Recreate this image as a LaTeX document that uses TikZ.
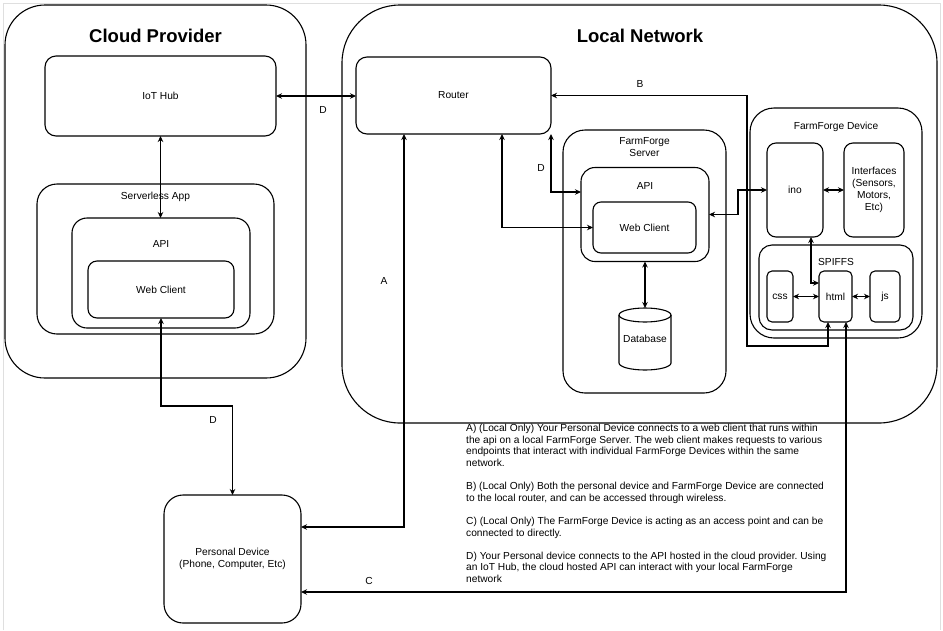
\documentclass[tikz,border=0pt]{standalone}
\usepackage{fontspec}
\setmainfont{Liberation Sans}
\usetikzlibrary{arrows.meta}
\frenchspacing
\newcommand\lblfont{\fontsize{10.2}{12}\selectfont}
\newcommand\descfont{\fontsize{10.2}{11.6}\selectfont}
\begin{document}
\begin{tikzpicture}[x=1pt,y=1pt,
  box/.style={draw, line width=1.1pt, inner sep=0pt, outer sep=0pt, rounded corners=#1, font=\lblfont, align=center},
  box/.default=10pt,
  lbl/.style={font=\lblfont, inner sep=0pt, outer sep=0pt, align=center},
  ttl/.style={font=\fontsize{18.5}{22}\selectfont\bfseries, inner sep=0pt},
  conn/.style={line width=1.1pt, {Stealth[length=6pt,width=5.5pt]}-{Stealth[length=6pt,width=5.5pt]}},
  frame/.style={draw=gray!25, line width=1pt}
]
\useasboundingbox (0,0) rectangle (943,-630);
\draw[frame] (3,-630) -- (3,-3) -- (940,-3) -- (940,-630);

% containers
\node[box=40pt, minimum width=301pt, minimum height=373pt] (cloud) at (155.5,-191.5) {};
\node[box=58pt, minimum width=595pt, minimum height=418pt] (local) at (639.5,-214) {};
\node[ttl] (tcloud) at (155.5,-36) {Cloud Provider};
\node[ttl] (tlocal) at (640,-36) {Local Network};

% cloud side
\node[box=11pt, minimum width=231pt, minimum height=80pt] (iot) at (160.5,-96) {IoT Hub};
\node[box=20pt, minimum width=237pt, minimum height=150pt] (sapp) at (155.5,-259) {};
\node[lbl] (sapplbl) at (155.5,-197) {Serverless App};
\node[box=15pt, minimum width=178pt, minimum height=110pt] (capi) at (161,-273) {};
\node[lbl] (capilbl) at (161,-244) {API};
\node[box=9pt, minimum width=146pt, minimum height=57pt] (cweb) at (161,-289.5) {Web Client};

% personal device
\node[box=19pt, minimum width=137pt, minimum height=128pt] (pd) at (232.5,-559) {Personal Device\\(Phone, Computer, Etc)};

% router
\node[box=11pt, minimum width=195pt, minimum height=77pt] (router) at (453.5,-95.5) {Router};

% farmforge server
\node[box=22pt, minimum width=163pt, minimum height=263pt] (ffs) at (644.5,-261.5) {};
\node[lbl] (ffslbl) at (644.5,-147.5) {FarmForge\\Server};
\node[box=14pt, minimum width=128pt, minimum height=94pt] (sapi) at (645,-214.5) {};
\node[lbl] (sapilbl) at (645,-186) {API};
\node[box=8pt, minimum width=103pt, minimum height=51pt] (sweb) at (644.5,-227.5) {Web Client};
\node[lbl, minimum width=52pt, minimum height=62pt] (db) at (645,-339) {Database};
\draw[line width=1.1pt] (619,-315) -- (619,-363) arc[start angle=180, end angle=360, x radius=26, y radius=7]
  -- (671,-315) arc[start angle=0, end angle=180, x radius=26, y radius=7] -- cycle;
\draw[line width=1.1pt] (619,-315) arc[start angle=180, end angle=360, x radius=26, y radius=7];

% farmforge device
\node[box=24pt, minimum width=172pt, minimum height=230pt] (ffd) at (836,-223) {};
\node[lbl] (ffdlbl) at (836,-127) {FarmForge Device};
\node[box=9pt, minimum width=56pt, minimum height=94pt] (ino) at (795,-190) {ino};
\node[box=9pt, minimum width=60pt, minimum height=94pt] (intf) at (874,-190) {Interfaces\\(Sensors,\\Motors,\\Etc)};
\node[box=13pt, minimum width=154pt, minimum height=85pt] (spiffs) at (836,-287.5) {};
\node[lbl] (spiffslbl) at (836,-262) {SPIFFS};
\node[box=5pt, minimum width=26pt, minimum height=51pt] (css) at (780,-296.5) {css};
\node[box=5pt, minimum width=33pt, minimum height=51pt] (html) at (835.5,-296.5) {html};
\node[box=5pt, minimum width=30pt, minimum height=51pt] (js) at (885,-296.5) {js};

% connectors
\draw[conn] (iot.south) -- (iot.south |- capi.north);
\draw[conn] (cweb.south) -- ++(0,-88) -| (pd.north);
\draw[conn] (iot.east) -- (iot.east -| router.west);
\draw[conn] ([xshift=-49.5pt]router.south) |- ([yshift=32pt]pd.east);
\draw[conn] ([xshift=48.5pt]router.south) |- (sweb.west);
\draw[conn] ([xshift=97.5pt]router.south) |- ([yshift=22.5pt]sapi.west);
\draw[conn] (router.east) -- (747,-95.5) -- (747,-346) -| ([xshift=-7.5pt]html.south);
\draw[conn] (sapi.east) -- ++(29,0) |- (ino.west);
\draw[conn] (sapi.south) -- (db.north);
\draw[conn] (ino.east) -- (intf.west);
\draw[conn] (css.east) -- (html.west);
\draw[conn] (html.east) -- (js.west);
\draw[conn] ([xshift=16pt]ino.south) |- ([yshift=13.5pt]html.west);
\draw[conn] ([xshift=10.5pt]html.south) |- ([yshift=-33pt]pd.east);

% connector labels
\node[lbl] (ld1) at (213,-420) {D};
\node[lbl] (ld2) at (323,-110) {D};
\node[lbl] (la) at (384,-281) {A};
\node[lbl] (ld3) at (541,-168) {D};
\node[lbl] (lb) at (640,-84) {B};
\node[lbl] (lc) at (369,-581) {C};

% description
\node[font=\descfont, inner sep=0pt, anchor=north west, align=left] (desc) at (466,-424) {%
A) (Local Only) Your Personal Device connects to a web client that runs within\\
the api on a local FarmForge Server. The web client makes requests to various\\
endpoints that interact with individual FarmForge Devices within the same\\
network.\\[11.6pt]
B) (Local Only) Both the personal device and FarmForge Device are connected\\
to the local router, and can be accessed through wireless.\\[11.6pt]
C) (Local Only) The FarmForge Device is acting as an access point and can be\\
connected to directly.\\[11.6pt]
D) Your Personal device connects to the API hosted in the cloud provider. Using\\
an IoT Hub, the cloud hosted API can interact with your local FarmForge\\
network};
\end{tikzpicture}
\end{document}
